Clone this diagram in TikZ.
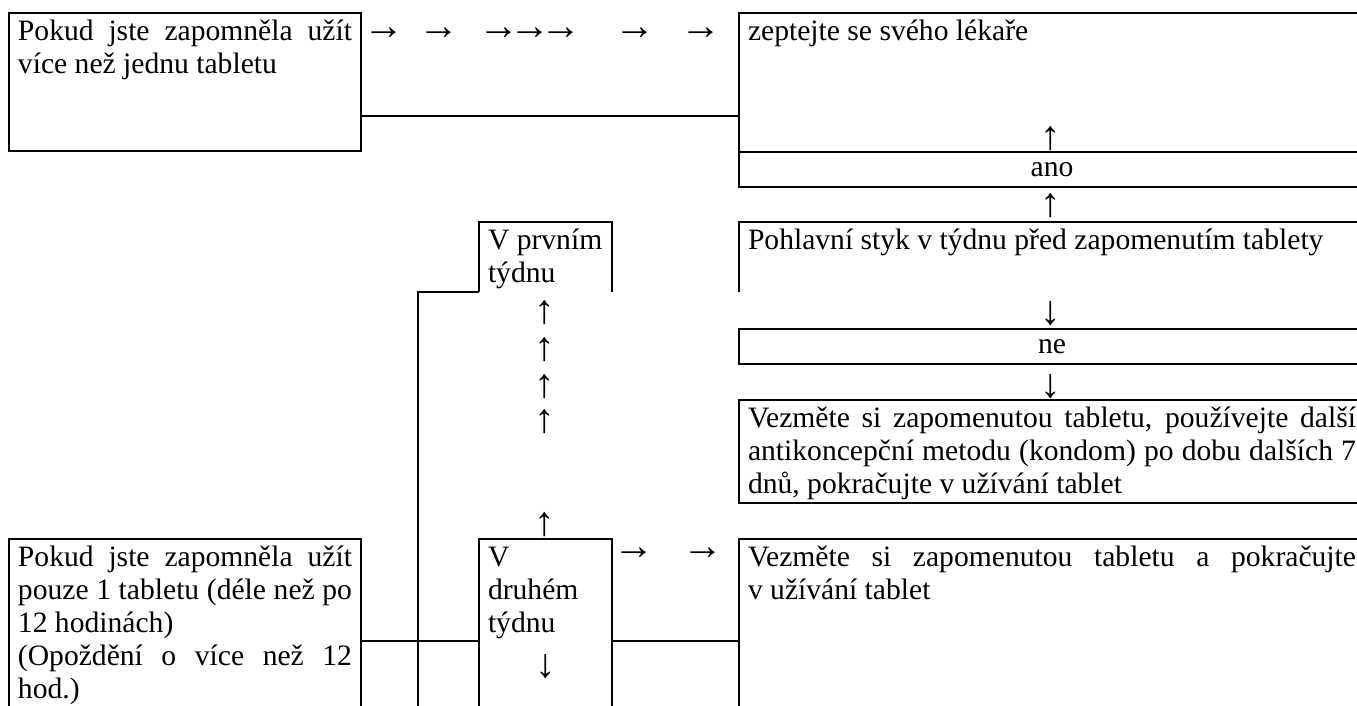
\documentclass[tikz,border=0pt]{standalone}
\usepackage{fontspec}
\setmainfont{Liberation Serif}
\usetikzlibrary{positioning}

\tolerance=9999
\hyphenpenalty=10000
\newcommand{\celltext}[3]{\parbox[t][#1][t]{#2}{\strut #3}}
\newcommand{\bigsign}[1]{{\fontsize{20.5}{16.5}\selectfont #1}}

\begin{document}
\begin{tikzpicture}[x=0.5pt, y=-0.5pt, line width=1pt,
  every node/.style={font=\fontsize{14.8}{16.5}\selectfont, outer sep=0pt},
  cellbox/.style={anchor=north west, inner xsep=4.5pt, inner ysep=2pt},
  framed/.style={cellbox, draw},
  answer/.style={draw, anchor=north west, minimum width=313pt,
    minimum height=17.5pt, inner sep=0pt},
  sign/.style={inner sep=0pt, font=\fontsize{20.5}{16.5}\selectfont}]

  \useasboundingbox (0,0) rectangle (1357,706);
  \clip (0,0) rectangle (1357,706);

  % top row
  \node[framed] (more) at (9,13)
    {\celltext{65pt}{167pt}{Pokud jste zapomněla užít\linebreak více než jednu tabletu}};
  \node[framed] (doctor) at (739,13)
    {\celltext{65.5pt}{304pt}{zeptejte se svého lékaře}};
  \node[answer] (yes) at (739,152) {ano};

  % intercourse question
  \node[cellbox] (sex) at (739,222)
    {\celltext{31pt}{304pt}{Pohlavní styk v týdnu před zapomenutím tablety}};
  \node[answer] (no) at (739,329) {ne};
  \node[framed] (extra) at (739,400)
    {\celltext{47.5pt}{304pt}{Vezměte si zapomenutou tabletu, používejte další\linebreak
      antikoncepční metodu (kondom) po dobu dalších 7\linebreak dnů, pokračujte v užívání tablet}};

  % weeks
  \node[cellbox] (week1) at (479,222) {\celltext{31pt}{57.5pt}{V~prvním\\týdnu}};
  \node[framed] (week2) at (479,539)
    {\celltext{120pt}{57.5pt}{V\\druhém\\týdnu\\\hspace*{\fill}\raisebox{-6pt}{\bigsign{↓}}\hspace*{\fill}}};

  % bottom row
  \node[framed] (one) at (9,539)
    {\celltext{120pt}{167pt}{Pokud jste zapomněla užít\linebreak pouze 1 tabletu (déle než po\linebreak
      12 hodinách)\par (Opoždění o více než 12\linebreak hod.)}};
  \node[framed] (takeone) at (739,539)
    {\celltext{120pt}{304pt}{Vezměte si zapomenutou tabletu a pokračujte\linebreak v užívání tablet}};

  % open boxes
  \draw (sex.south west) |- (sex.north east) -- (sex.south east);
  \draw (week1.south west) |- (week1.north east) -- (week1.south east);

  % joining lines
  \draw ([yshift=17.5pt]more.south east) coordinate (a) -- (a -| doctor.west);
  \draw ([yshift=-51pt]one.north east) coordinate (b) -- (b -| week2.west);
  \draw (b -| week2.east) -- (b -| takeone.west);
  \coordinate (drop) at (418,720);
  \draw (week1.south west) -| (drop);

  % arrow signs
  \foreach \x in {384,439,635,701}
    \node[sign] (r\x) at (\x,34) {→};
  \node[sign] (r3) at (530,34) {→\kern-5pt→\kern-5pt→};
  \node[sign] (u1) at (1051,139) {↑};
  \node[sign] (u2) at (1051,206) {↑};
  \node[sign] (d1) at (1051,314) {↓};
  \node[sign] (d2) at (1051,387) {↓};
  \foreach \y in {313,350,387,422}
    \node[sign] (c\y) at (545,\y) {↑};
  \node[sign] (u3) at (545,525) {↑};
  \foreach \x in {634,703}
    \node[sign] (s\x) at (\x,554) {→};

\end{tikzpicture}
\end{document}
